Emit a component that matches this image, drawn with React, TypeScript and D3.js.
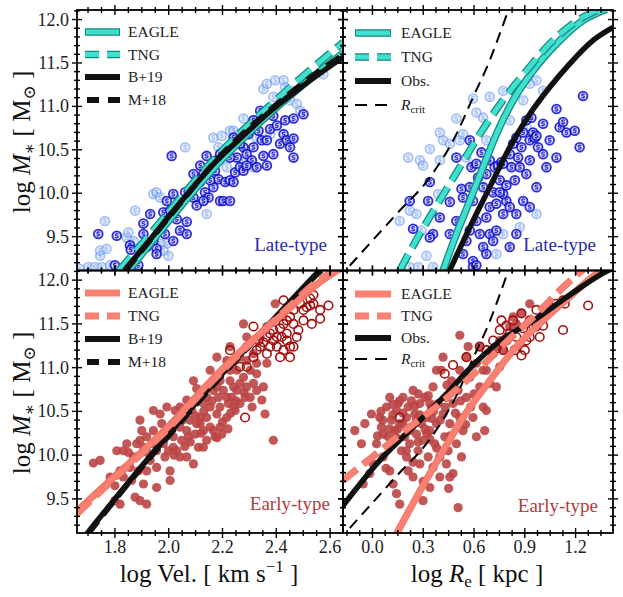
import React from 'react';
import * as d3 from 'd3';

// ---------------- data ----------------
const velMajor = [1.8, 2.0, 2.2, 2.4, 2.6];
const reMajor = [0.0, 0.3, 0.6, 0.9, 1.2];
const massMajor = [9.5, 10.0, 10.5, 11.0, 11.5, 12.0];
const velLabels = ['1.8', '2.0', '2.2', '2.4', '2.6'];
const reLabels = ['0.0', '0.3', '0.6', '0.9', '1.2'];
const massLabels = ['9.5', '10.0', '10.5', '11.0', '11.5', '12.0'];

// Late-type, velocity panel
const lateVelDark: number[][] = [
  [1.738,9.53],[1.807,9.51],[1.800,9.17],[1.856,9.40],[1.859,9.35],[1.887,9.17],[1.906,9.65],[1.931,9.76],[1.906,9.53],[1.943,9.45],
  [1.955,9.36],[1.980,9.78],[1.986,9.53],[1.993,9.91],[2.011,10.43],[2.017,9.99],[2.030,9.70],[2.042,9.57],[2.067,9.53],[2.067,9.67],
  [2.061,10.01],[2.092,9.95],[2.104,9.86],[2.117,10.13],[2.117,10.32],[2.129,10.22],[2.135,10.01],[2.141,10.43],[2.148,9.95],[2.166,10.07],
  [2.172,10.26],[2.185,10.16],[2.191,9.91],[2.203,9.91],[2.210,10.13],[2.228,10.15],[2.241,10.13],[2.247,10.24],[2.253,10.41],[2.265,10.30],
  [2.278,10.53],[2.278,10.26],[2.290,10.45],[2.296,10.68],[2.309,10.38],[2.315,10.53],[2.327,10.30],[2.334,10.72],[2.346,10.61],[2.352,10.43],
  [2.365,10.32],[2.377,10.74],[2.389,10.89],[2.402,10.78],[2.414,10.57],[2.427,10.68],[2.433,10.84],[2.439,10.61],[2.451,10.53],[2.464,10.63],
  [2.464,10.86],[2.501,10.91],[2.464,10.41],[2.241,10.64],[2.265,10.57],[2.228,10.41],[2.179,10.38],[2.154,10.15],[2.092,10.22],[2.042,9.88],
  [2.005,9.80],[1.955,9.30],[1.918,9.38],[2.017,9.45],[2.129,9.91],[2.191,10.45],[2.315,10.84],[2.365,10.61],[2.389,10.45],[2.340,10.95],
  [2.290,10.32],[2.228,9.91]
];
const lateVelLight: number[][] = [
  [1.670,9.13],[1.701,9.15],[1.726,9.15],[1.751,9.15],[1.782,9.17],[1.745,9.28],[1.745,9.34],[1.769,9.36],[1.763,9.68],[1.844,9.49],
  [1.875,9.80],[1.850,9.55],[1.869,9.45],[1.943,9.99],[1.955,10.01],[1.968,9.95],[1.993,9.42],[1.999,9.28],[1.968,9.42],[1.980,9.34],
  [2.061,10.53],[2.166,10.64],[2.197,10.66],[2.185,10.53],[2.228,10.72],[2.241,10.72],[2.265,10.68],[2.278,10.86],[2.315,10.84],[2.340,10.87],
  [2.327,10.64],[2.377,10.68],[2.352,11.20],[2.365,11.26],[2.396,11.30],[2.427,11.30],[2.389,11.11],[2.420,11.07],[2.451,11.07],[2.476,11.03],
  [2.489,10.95],[2.464,11.18],[2.433,11.22],[2.575,11.37],[2.290,10.38],[2.315,10.30],[2.117,9.91],[2.141,9.76],[2.216,10.30]
];
// Late-type, size panel
const lateReDark: number[][] = [
  [0.220,9.91],[0.240,9.59],[0.329,9.91],[0.339,10.13],[0.358,9.53],[0.398,9.72],[0.457,9.90],[0.496,10.41],[0.526,10.05],[0.535,9.95],
  [0.575,10.61],[0.585,10.30],[0.614,10.34],[0.624,10.18],[0.644,10.47],[0.654,10.07],[0.673,10.22],[0.693,10.38],[0.713,10.01],[0.722,10.30],
  [0.742,10.32],[0.752,10.15],[0.762,10.36],[0.772,10.34],[0.791,10.09],[0.791,9.91],[0.811,10.45],[0.821,10.30],[0.831,10.57],[0.850,10.64],
  [0.860,10.41],[0.870,10.30],[0.880,10.53],[0.890,10.70],[0.909,10.84],[0.929,10.61],[0.939,10.87],[0.949,10.70],[0.959,10.64],[0.969,10.66],
  [0.978,10.53],[1.008,10.80],[1.047,10.61],[1.087,10.97],[1.106,10.76],[1.126,10.82],[1.146,10.70],[1.195,10.72],[1.224,10.53],[1.244,11.12],
  [0.772,9.99],[0.811,9.84],[0.850,9.76],[0.890,9.91],[0.929,9.84],[0.673,9.72],[0.693,9.84],[0.614,9.68],[0.634,9.53],[0.654,9.38],
  [0.673,9.30],[0.594,9.22],[0.535,9.30],[0.555,9.45],[0.575,9.57],[0.693,9.53],[0.732,9.57],[0.772,9.76],[0.811,9.38],[0.496,9.68],
  [0.457,9.53],[0.339,9.49],[0.575,10.07],[0.594,9.91],[0.732,9.88],[0.752,10.01],[0.841,10.15],[0.909,10.22],[0.969,10.07],[1.028,10.30],
  [0.929,10.38],[1.008,10.45],[1.087,10.41],[0.594,9.15],[0.614,9.17],[0.713,9.45],[0.850,9.53]
];
const lateReLight: number[][] = [
  [0.161,9.68],[0.211,10.41],[0.220,9.80],[0.260,9.76],[0.280,10.38],[0.299,10.32],[0.289,9.57],[0.319,9.28],[0.220,9.15],[0.270,9.15],
  [0.358,9.15],[0.339,10.51],[0.398,10.70],[0.417,10.61],[0.457,10.57],[0.496,10.86],[0.516,10.61],[0.594,11.09],[0.614,10.93],[0.693,11.11],
  [0.772,11.18],[0.850,11.18],[0.969,11.30],[1.008,11.18],[0.909,10.76],[0.969,9.76],[0.870,9.61],[0.772,9.53],[0.732,9.30],[0.437,9.15],
  [0.535,10.68],[0.654,10.87],[0.811,10.84],[0.890,11.07],[0.929,11.26],[0.673,10.61],[0.398,10.38],[0.388,9.99],[0.555,10.41]
];
// Early-type, velocity panel
const earlyVelFilled: number[][] = [
  [1.720,9.91],[1.800,9.65],[1.807,10.05],[1.819,9.82],[1.831,10.05],[1.850,10.03],[1.856,9.86],[1.869,9.98],[1.881,10.13],[1.887,9.82],
  [1.893,10.17],[1.900,10.28],[1.906,10.09],[1.918,10.21],[1.918,9.82],[1.931,9.94],[1.937,10.13],[1.943,10.28],[1.955,10.05],[1.955,9.86],
  [1.968,10.21],[1.974,10.36],[1.980,10.13],[1.986,9.98],[1.993,10.28],[1.999,10.05],[2.005,9.71],[2.017,10.36],[2.017,10.21],[2.024,10.51],
  [2.030,10.05],[2.042,10.32],[2.048,10.17],[2.055,10.47],[2.067,10.28],[2.073,10.21],[2.079,10.40],[2.086,10.51],[2.092,10.85],[2.098,10.24],
  [2.104,10.36],[2.110,10.09],[2.117,10.43],[2.129,10.59],[2.129,10.28],[2.141,10.43],[2.141,10.17],[2.154,10.55],[2.154,10.32],[2.166,10.74],
  [2.172,10.21],[2.179,10.47],[2.185,10.66],[2.191,10.55],[2.191,10.32],[2.197,10.24],[2.203,10.74],[2.216,10.43],[2.222,10.59],[2.228,10.85],
  [2.228,10.97],[2.234,10.66],[2.241,10.78],[2.247,10.51],[2.253,10.97],[2.253,10.74],[2.265,10.82],[2.265,10.59],[2.278,10.89],[2.284,10.66],
  [2.290,10.78],[2.290,11.08],[2.303,10.97],[2.315,10.82],[2.327,10.93],[2.346,10.63],[2.358,10.47],[2.352,10.78],[2.365,11.05],[2.389,10.17],
  [2.278,11.50],[2.253,11.12],[2.315,11.16],[2.104,10.76],[2.117,10.66],[2.191,10.85],[2.216,10.66],[2.241,10.55],[2.079,10.59],[2.042,10.55],
  [1.993,10.55],[1.943,10.51],[1.893,10.40],[1.844,10.13],[1.831,9.75],[1.862,9.71],[1.906,9.67],[1.955,9.63],[1.875,9.52],[1.893,9.48],
  [1.918,9.44],[1.745,9.94],[1.782,9.75],[1.800,9.48],[1.819,9.44],[1.968,10.47],[2.067,10.63],[2.179,11.12],[2.228,11.24],[2.290,11.35],
  [2.327,11.05],[2.290,11.24],[2.340,11.35],[2.365,11.47],[2.141,10.66],[2.179,10.78],[2.265,11.12],[2.303,10.66],[2.327,10.74],[2.216,11.08],
  [2.241,11.08],[2.154,10.97],[2.117,10.36],[2.042,9.98],[2.017,10.09],[2.005,9.82],[2.129,10.09],[2.166,10.28],[2.067,9.98],[2.092,9.90],
  [2.396,11.73],[2.05,10.40],[2.10,10.45],[2.13,10.50],[2.20,10.38],[2.23,10.48],[2.25,10.62],[2.28,10.72],[2.31,10.55],[2.16,10.62],
  [2.08,10.15],[2.12,10.25],[2.18,10.20],[2.22,10.30],[1.96,10.12],[1.92,10.03],[2.02,10.00],[2.06,10.10]
];
const earlyVelOpen: number[][] = [
  [2.228,11.20],[2.290,11.01],[2.315,11.12],[2.327,11.20],[2.340,11.24],[2.352,11.29],[2.365,11.35],[2.377,11.39],[2.389,11.43],[2.402,11.35],
  [2.414,11.45],[2.427,11.50],[2.439,11.54],[2.451,11.58],[2.464,11.50],[2.476,11.35],[2.451,11.24],[2.427,11.20],[2.414,11.12],[2.402,11.24],
  [2.377,11.24],[2.439,11.39],[2.464,11.66],[2.489,11.73],[2.501,11.66],[2.513,11.69],[2.526,11.71],[2.532,11.50],[2.563,11.56],[2.538,11.73],
  [2.594,11.71],[2.427,11.77],[2.420,11.35],[2.439,11.31],[2.451,11.12],[2.315,11.47],[2.265,11.01],[2.284,10.43],[2.464,11.24],[2.482,11.43],
  [2.501,11.54],[2.389,11.31],[2.365,11.16],[2.334,11.31],[2.538,11.83],[2.563,11.66],[2.526,11.79]
];
// Early-type, size panel
const earlyReFilled: number[][] = [
  [-0.104,10.28],[-0.065,10.13],[-0.045,10.36],[-0.006,10.47],[0.024,10.13],[0.043,10.43],[0.053,10.32],[0.063,10.24],[0.083,10.55],[0.093,10.21],
  [0.102,10.66],[0.112,10.40],[0.122,10.13],[0.132,10.28],[0.142,10.51],[0.152,10.59],[0.161,10.36],[0.171,10.05],[0.181,10.66],[0.191,10.21],
  [0.201,10.43],[0.211,10.55],[0.220,10.13],[0.230,10.32],[0.240,10.74],[0.250,10.47],[0.260,10.24],[0.270,10.05],[0.280,10.59],[0.289,10.36],
  [0.299,10.17],[0.309,10.66],[0.319,10.43],[0.329,9.98],[0.339,10.28],[0.348,10.55],[0.358,10.78],[0.368,10.13],[0.378,10.36],[0.388,10.59],
  [0.398,9.98],[0.407,10.97],[0.417,10.47],[0.427,10.21],[0.437,10.66],[0.447,10.05],[0.457,10.36],[0.467,10.85],[0.476,10.59],[0.496,10.13],
  [0.506,10.74],[0.516,10.43],[0.526,9.98],[0.535,10.28],[0.555,10.66],[0.575,10.89],[0.594,10.43],[0.614,10.21],[0.634,10.78],[0.654,10.55],
  [0.663,10.28],[0.673,10.97],[0.693,10.82],[0.713,11.16],[0.732,11.24],[0.752,11.31],[0.772,11.20],[0.791,11.35],[0.811,11.47],[0.831,11.58],
  [0.850,11.50],[0.880,11.62],[0.929,11.73],[0.516,11.37],[-0.055,9.67],[-0.016,9.79],[0.102,9.82],[0.122,9.67],[0.142,9.56],[0.161,9.44],
  [0.211,9.82],[0.240,9.75],[0.299,9.48],[0.339,9.63],[0.358,9.86],[0.398,9.75],[0.437,9.90],[0.457,9.75],[0.476,9.79],[0.506,9.40],
  [0.063,9.98],[0.004,9.90],[0.201,9.98],[0.280,9.90],[0.339,10.59],[0.378,10.97],[0.417,11.12],[0.555,11.12],[0.614,11.05],[0.634,11.24],
  [0.654,10.97],[0.516,10.97],[0.565,11.24],[0.732,10.78],[0.752,11.01],[0.673,10.51],[0.150,10.30],[0.260,10.40],[0.320,10.25],[0.230,10.62],
  [0.180,10.48],[0.350,10.42],[0.270,10.70],[0.120,10.58],[0.060,10.40],
  [0.05,10.50],[0.10,10.30],[0.14,10.20],[0.18,10.36],[0.22,10.28],[0.25,10.56],[0.28,10.46],[0.31,10.30],[0.34,10.18],[0.36,10.50],
  [0.40,10.40],[0.43,10.55],[0.46,10.22],[0.49,10.48],[0.52,10.62],[0.55,10.35],[0.58,10.55],[0.20,10.05],[0.27,10.15],[0.12,10.46],
  [0.03,10.22],[0.16,10.62],[0.33,10.68],[0.44,10.80],[0.60,10.70],[0.38,10.08],[0.24,9.92],[0.30,9.70],[0.45,9.62],[0.08,9.85]
];
const earlyReOpen: number[][] = [
  [0.476,11.03],[0.555,11.12],[0.634,11.24],[0.673,11.20],[0.713,11.31],[0.752,11.43],[0.762,11.54],[0.772,11.20],[0.791,11.48],[0.811,11.39],
  [0.831,11.54],[0.850,11.35],[0.880,11.62],[0.890,11.45],[0.909,11.31],[0.929,11.35],[0.949,11.48],[0.969,11.47],[0.988,11.35],[1.008,11.48],
  [0.900,11.20],[0.880,11.14],[1.028,11.69],[1.087,11.73],[1.126,11.77],[1.136,11.73],[1.126,11.43],[1.274,11.71],[0.841,11.20],[0.732,11.22],
  [0.427,10.93],[0.161,10.43],[0.791,11.31],[0.929,11.54],[0.969,11.66]
];

// Model / observed relations
const eagleVelLate = [[1.85,9.11],[1.95,9.49],[2.05,9.87],[2.18,10.33],[2.38,10.93],[2.5,11.25],[2.65,11.62]];
const tngVelLate = [[1.815,9.11],[1.95,9.6],[2.05,9.97],[2.18,10.43],[2.38,11.02],[2.5,11.35],[2.65,11.74]];
const b19Late = [[1.835,9.11],[1.95,9.54],[2.05,9.92],[2.18,10.38],[2.28,10.67],[2.38,10.95],[2.5,11.24],[2.65,11.57]];
const m18Late = [[1.84,9.11],[1.95,9.53],[2.05,9.91],[2.18,10.39],[2.38,10.97],[2.5,11.27],[2.65,11.6]];
const eagleReLate = [[0.417,9.11],[0.496,9.53],[0.575,9.915],[0.653,10.30],[0.732,10.68],[0.831,11.07],[0.949,11.41],[1.087,11.72],[1.244,11.99],[1.382,12.12]];
const tngReLate = [[0.161,9.11],[0.279,9.53],[0.397,9.915],[0.516,10.30],[0.634,10.68],[0.771,11.07],[0.91,11.41],[1.047,11.72],[1.19,11.96],[1.34,12.12]];
const obsReLate = [[0.456,9.11],[0.575,9.607],[0.693,10.07],[0.811,10.53],[0.929,10.91],[1.047,11.22],[1.165,11.49],[1.303,11.76],[1.421,11.91]];
const rCrit = [[-0.134,9.166],[0.142,9.76],[0.338,10.18],[0.496,10.68],[0.594,11.105],[0.693,11.53],[0.752,11.835],[0.801,12.10],[0.81,12.15]];
const eagleVelEarly = [[1.659,9.36],[1.782,9.71],[2.0,10.33],[2.154,10.84],[2.3,11.28],[2.45,11.68],[2.55,11.95],[2.648,12.15]];
const tngVelEarly = [[1.659,9.33],[1.782,9.69],[2.0,10.31],[2.154,10.82],[2.3,11.27],[2.45,11.70],[2.55,11.98],[2.648,12.16]];
const b19Early = [[1.695,9.1],[1.856,9.71],[2.0,10.24],[2.154,10.78],[2.303,11.27],[2.45,11.75],[2.551,12.08],[2.58,12.17]];
const m18Early = [[1.70,9.1],[1.856,9.70],[2.0,10.22],[2.154,10.76],[2.303,11.26],[2.45,11.74],[2.56,12.09],[2.59,12.17]];
const eagleReEarly = [[0.142,9.1],[0.26,9.52],[0.397,9.98],[0.535,10.43],[0.693,10.85],[0.85,11.24],[1.008,11.54],[1.165,11.81],[1.303,12.04],[1.37,12.13]];
const tngReEarly = [[-0.175,9.71],[0.0,9.98],[0.2,10.29],[0.4,10.59],[0.6,10.93],[0.8,11.31],[1.0,11.67],[1.1,11.87],[1.25,12.13]];
const obsReEarly = [[-0.175,9.42],[0.043,9.94],[0.24,10.32],[0.437,10.70],[0.575,10.99],[0.75,11.30],[0.969,11.56],[1.165,11.83],[1.362,12.08],[1.42,12.14]];

// ---------------- layout ----------------
const XL0 = 77, XMID = 343, XR1 = 613;
const YT0 = 10, YMID = 270.5, YB1 = 533;
const massDomain = [9.11, 12.11];
const velDomain = [1.659, 2.648];
const reDomain = [-0.174, 1.421];
const FONT = '"Liberation Serif", "DejaVu Serif", serif';

const TEAL = '#40E0D0', TEAL_EDGE = '#12897c';
const SALMON = '#FA8072', SALMON_EDGE = '#ee6f61';
const DARKBLUE = '#0a0ad0', LIGHTBLUE = '#5b8ef0';
const RED_FILL = '#bb4545', RED_OPEN = '#a30f0f';

function ticksFor(domain: number[], step: number) {
  const start = Math.ceil(domain[0] / step - 1e-9);
  const end = Math.floor(domain[1] / step + 1e-9);
  return d3.range(start, end + 1).map(i => +(i * step).toFixed(4));
}

function Frame({ xs, ys, xMajor, xMinorStep, yMajor, yMinorStep }: any) {
  const [x0, x1] = xs.range();
  const [y1, y0] = ys.range();
  const els: any[] = [];
  const maj = 5, mn = 3;
  const xMin = ticksFor(xs.domain(), xMinorStep);
  const yMin = ticksFor(ys.domain(), yMinorStep);
  xMin.forEach((v: number, i: number) => {
    const x = xs(v);
    const isMaj = xMajor.some((m: number) => Math.abs(m - v) < 1e-6);
    const L = isMaj ? maj : mn;
    els.push(<line key={'xb' + i} x1={x} x2={x} y1={y1 - L} y2={y1 + L} />);
    els.push(<line key={'xt' + i} x1={x} x2={x} y1={y0 - L} y2={y0 + L} />);
  });
  yMin.forEach((v: number, i: number) => {
    const y = ys(v);
    const isMaj = yMajor.some((m: number) => Math.abs(m - v) < 1e-6);
    const L = isMaj ? maj : mn;
    els.push(<line key={'yl' + i} x1={x0 - L} x2={x0 + L} y1={y} y2={y} />);
    els.push(<line key={'yr' + i} x1={x1 - L} x2={x1 + L} y1={y} y2={y} />);
  });
  return (
    <g stroke="#000" strokeWidth={1.4}>
      {els}
      <rect x={x0} y={y0} width={x1 - x0} height={y1 - y0} fill="none" strokeWidth={1.8} />
    </g>
  );
}

function Spiral({ x, y, color, op }: any) {
  return (
    <g transform={`translate(${x},${y})`} opacity={op}>
      <circle r={5.3} fill={color} />
      <circle r={3.5} fill="#fff" opacity={0.8} />
      <path d="M1.7,-1.5 Q0,-2.9 -1.3,-1.2 Q-1.4,0 0,0 Q1.4,0 1.3,1.2 Q0,2.9 -1.7,1.5" fill="none" stroke={color} strokeWidth={1.2} />
    </g>
  );
}

function Curve({ data, xs, ys, kind }: any) {
  const gen = d3.line<number[]>().x(d => xs(d[0])).y(d => ys(d[1])).curve(d3.curveMonotoneX);
  const d = gen(data as any) || '';
  if (kind === 'tealSolid' || kind === 'tealDash') {
    const dash = kind === 'tealDash' ? '18,8' : undefined;
    return (
      <g fill="none">
        <path d={d} stroke={TEAL_EDGE} strokeWidth={7.5} strokeDasharray={dash} />
        <path d={d} stroke={TEAL} strokeWidth={5} strokeDasharray={dash} />
      </g>
    );
  }
  if (kind === 'salmonSolid' || kind === 'salmonDash') {
    const dash = kind === 'salmonDash' ? '18,8' : undefined;
    return (
      <g fill="none">
        <path d={d} stroke={SALMON_EDGE} strokeWidth={7} strokeDasharray={dash} />
        <path d={d} stroke={SALMON} strokeWidth={5.5} strokeDasharray={dash} />
      </g>
    );
  }
  if (kind === 'black') return <path d={d} fill="none" stroke="#111" strokeWidth={5.5} />;
  if (kind === 'blackDash') return <path d={d} fill="none" stroke="#111" strokeWidth={5.5} strokeDasharray="16,8" />;
  if (kind === 'thinDash') return <path d={d} fill="none" stroke="#000" strokeWidth={2} strokeDasharray="11,7" />;
  return null;
}

function LegendSample({ kind, x0, x1, y }: any) {
  const d = `M${x0},${y}L${x1},${y}`;
  if (kind === 'tealSolid') return <g><path d={d} stroke={TEAL_EDGE} strokeWidth={7.5} /><path d={`M${x0 + 1},${y}L${x1 - 1},${y}`} stroke={TEAL} strokeWidth={5} /></g>;
  if (kind === 'tealDash') return <g><path d={d} stroke={TEAL_EDGE} strokeWidth={7.5} strokeDasharray="14,8" /><path d={d} stroke={TEAL} strokeWidth={5} strokeDasharray="14,8" /></g>;
  if (kind === 'salmonSolid') return <path d={d} stroke={SALMON} strokeWidth={7} />;
  if (kind === 'salmonDash') return <path d={d} stroke={SALMON} strokeWidth={7} strokeDasharray="14,8" />;
  if (kind === 'black') return <path d={d} stroke="#111" strokeWidth={6} />;
  if (kind === 'blackDash') return <path d={`M${x0 + 2},${y}L${x1},${y}`} stroke="#111" strokeWidth={6} strokeDasharray="12,9" />;
  if (kind === 'thinDash') return <path d={d} stroke="#000" strokeWidth={2} strokeDasharray="12,8" />;
  return null;
}

function Legend({ entries, x0, x1, tx, ys }: any) {
  return (
    <g fontFamily={FONT} fontSize={15.5} fill="#222">
      {entries.map((e: any, i: number) => (
        <g key={i}>
          <LegendSample kind={e.kind} x0={x0} x1={x1} y={ys[i]} />
          <text x={tx} y={ys[i] + 5}>
            {e.label === 'Rcrit' ? (
              <>
                <tspan fontStyle="italic">R</tspan>
                <tspan fontSize={11} dy={3}>crit</tspan>
              </>
            ) : e.label}
          </text>
        </g>
      ))}
    </g>
  );
}

export default function App() {
  const xsVelT = d3.scaleLinear().domain(velDomain).range([XL0, XMID]);
  const xsReT = d3.scaleLinear().domain(reDomain).range([XMID, XR1]);
  const ysT = d3.scaleLinear().domain(massDomain).range([YMID, YT0]);
  const ysB = d3.scaleLinear().domain(massDomain).range([YB1, YMID]);

  const panels = [
    { id: 'tl', xs: xsVelT, ys: ysT, xMajor: velMajor, xStep: 0.05 },
    { id: 'tr', xs: xsReT, ys: ysT, xMajor: reMajor, xStep: 0.075 },
    { id: 'bl', xs: xsVelT, ys: ysB, xMajor: velMajor, xStep: 0.05 },
    { id: 'br', xs: xsReT, ys: ysB, xMajor: reMajor, xStep: 0.075 },
  ];

  const clip = (p: any) => {
    const [x0, x1] = p.xs.range();
    const [y1, y0] = p.ys.range();
    return <clipPath id={'clip-' + p.id} key={p.id}><rect x={x0} y={y0} width={x1 - x0} height={y1 - y0} /></clipPath>;
  };

  const lateLegendYsL = [32, 54.5, 77, 100];
  const lateLegendYsR = [33, 57, 81, 105];
  const earlyLegendYsL = [293, 316, 339, 362];
  const earlyLegendYsR = [294, 316, 338, 359];

  return (
    <svg width={623} height={597} viewBox="0 0 623 597" style={{ display: 'block', position: 'absolute', left: 0, top: 0 }}>
      <defs>{panels.map(clip)}</defs>
      <rect x={0} y={0} width={623} height={597} fill="#fff" />

      {/* Top-left: late-type, velocity */}
      <g clipPath="url(#clip-tl)">
        {lateVelLight.map((d, i) => <Spiral key={'a' + i} x={xsVelT(d[0])} y={ysT(d[1])} color={LIGHTBLUE} op={0.55} />)}
        {lateVelDark.map((d, i) => <Spiral key={'b' + i} x={xsVelT(d[0])} y={ysT(d[1])} color={DARKBLUE} op={0.85} />)}
        <Curve data={eagleVelLate} xs={xsVelT} ys={ysT} kind="tealSolid" />
        <Curve data={tngVelLate} xs={xsVelT} ys={ysT} kind="tealDash" />
        <Curve data={b19Late} xs={xsVelT} ys={ysT} kind="black" />
        <Curve data={m18Late} xs={xsVelT} ys={ysT} kind="blackDash" />
      </g>
      {/* Top-right: late-type, size */}
      <g clipPath="url(#clip-tr)">
        {lateReLight.map((d, i) => <Spiral key={'c' + i} x={xsReT(d[0])} y={ysT(d[1])} color={LIGHTBLUE} op={0.55} />)}
        {lateReDark.map((d, i) => <Spiral key={'d' + i} x={xsReT(d[0])} y={ysT(d[1])} color={DARKBLUE} op={0.85} />)}
        <Curve data={rCrit} xs={xsReT} ys={ysT} kind="thinDash" />
        <Curve data={obsReLate} xs={xsReT} ys={ysT} kind="black" />
        <Curve data={eagleReLate} xs={xsReT} ys={ysT} kind="tealSolid" />
        <Curve data={tngReLate} xs={xsReT} ys={ysT} kind="tealDash" />
      </g>
      {/* Bottom-left: early-type, velocity */}
      <g clipPath="url(#clip-bl)">
        {earlyVelFilled.map((d, i) => <circle key={'e' + i} cx={xsVelT(d[0])} cy={ysB(d[1])} r={4.6} fill={RED_FILL} opacity={0.9} />)}
        {earlyVelOpen.map((d, i) => <circle key={'f' + i} cx={xsVelT(d[0])} cy={ysB(d[1])} r={4.3} fill="none" stroke={RED_OPEN} strokeWidth={1.6} />)}
        <Curve data={b19Early} xs={xsVelT} ys={ysB} kind="black" />
        <Curve data={m18Early} xs={xsVelT} ys={ysB} kind="blackDash" />
        <Curve data={eagleVelEarly} xs={xsVelT} ys={ysB} kind="salmonSolid" />
        <Curve data={tngVelEarly} xs={xsVelT} ys={ysB} kind="salmonDash" />
      </g>
      {/* Bottom-right: early-type, size */}
      <g clipPath="url(#clip-br)">
        {earlyReFilled.map((d, i) => <circle key={'g' + i} cx={xsReT(d[0])} cy={ysB(d[1])} r={4.6} fill={RED_FILL} opacity={0.9} />)}
        {earlyReOpen.map((d, i) => <circle key={'h' + i} cx={xsReT(d[0])} cy={ysB(d[1])} r={4.3} fill="none" stroke={RED_OPEN} strokeWidth={1.6} />)}
        <Curve data={rCrit} xs={xsReT} ys={ysB} kind="thinDash" />
        <Curve data={eagleReEarly} xs={xsReT} ys={ysB} kind="salmonSolid" />
        <Curve data={obsReEarly} xs={xsReT} ys={ysB} kind="black" />
        <Curve data={tngReEarly} xs={xsReT} ys={ysB} kind="salmonDash" />
      </g>

      {/* Frames and ticks */}
      {panels.map(p => (
        <Frame key={p.id} xs={p.xs} ys={p.ys} xMajor={p.xMajor} xMinorStep={p.xStep} yMajor={massMajor} yMinorStep={0.1} />
      ))}

      {/* Legends */}
      <Legend x0={85} x1={120} tx={128} ys={lateLegendYsL}
        entries={[{ kind: 'tealSolid', label: 'EAGLE' }, { kind: 'tealDash', label: 'TNG' }, { kind: 'black', label: 'B+19' }, { kind: 'blackDash', label: 'M+18' }]} />
      <Legend x0={355} x1={391} tx={401} ys={lateLegendYsR}
        entries={[{ kind: 'tealSolid', label: 'EAGLE' }, { kind: 'tealDash', label: 'TNG' }, { kind: 'black', label: 'Obs.' }, { kind: 'thinDash', label: 'Rcrit' }]} />
      <Legend x0={85} x1={120} tx={128} ys={earlyLegendYsL}
        entries={[{ kind: 'salmonSolid', label: 'EAGLE' }, { kind: 'salmonDash', label: 'TNG' }, { kind: 'black', label: 'B+19' }, { kind: 'blackDash', label: 'M+18' }]} />
      <Legend x0={355} x1={391} tx={401} ys={earlyLegendYsR}
        entries={[{ kind: 'salmonSolid', label: 'EAGLE' }, { kind: 'salmonDash', label: 'TNG' }, { kind: 'black', label: 'Obs.' }, { kind: 'thinDash', label: 'Rcrit' }]} />

      {/* Panel tags */}
      <g fontFamily={FONT} fontSize={19} textAnchor="end">
        <text x={327} y={251} fill="#2a2aae">Late-type</text>
        <text x={596} y={251} fill="#2a2aae">Late-type</text>
        <text x={330} y={510} fill="#b03c3c">Early-type</text>
        <text x={598} y={512} fill="#b03c3c">Early-type</text>
      </g>

      {/* Tick labels */}
      <g fontFamily={FONT} fontSize={18} fill="#222">
        {massMajor.map((v, i) => (
          <text key={'yt' + i} x={69} y={ysT(v) + 6} textAnchor="end">{massLabels[i]}</text>
        ))}
        {massMajor.map((v, i) => (
          <text key={'yb' + i} x={69} y={ysB(v) + 6} textAnchor="end">{massLabels[i]}</text>
        ))}
        {velMajor.map((v, i) => (
          <text key={'xv' + i} x={xsVelT(v)} y={553} textAnchor="middle">{velLabels[i]}</text>
        ))}
        {reMajor.map((v, i) => (
          <text key={'xr' + i} x={xsReT(v)} y={553} textAnchor="middle">{reLabels[i]}</text>
        ))}
      </g>

      {/* Axis labels */}
      <g fontFamily={FONT} fontSize={25} fill="#111">
        <text transform="translate(30,142) rotate(-90)" textAnchor="middle">
          log <tspan fontStyle="italic">M</tspan><tspan fontSize={17} dy={5}>∗</tspan><tspan dy={-5}> [ M</tspan><tspan fontSize={17} dy={5}>⊙</tspan><tspan dy={-5}> ]</tspan>
        </text>
        <text transform="translate(30,403) rotate(-90)" textAnchor="middle">
          log <tspan fontStyle="italic">M</tspan><tspan fontSize={17} dy={5}>∗</tspan><tspan dy={-5}> [ M</tspan><tspan fontSize={17} dy={5}>⊙</tspan><tspan dy={-5}> ]</tspan>
        </text>
        <text x={209} y={582} textAnchor="middle">
          log Vel. [ km s<tspan fontSize={17} dy={-10}>−1</tspan><tspan dy={10}> ]</tspan>
        </text>
        <text x={477} y={582} textAnchor="middle">
          log <tspan fontStyle="italic">R</tspan><tspan fontSize={17} dy={5}>e</tspan><tspan dy={-5}> [ kpc ]</tspan>
        </text>
      </g>
    </svg>
  );
}
